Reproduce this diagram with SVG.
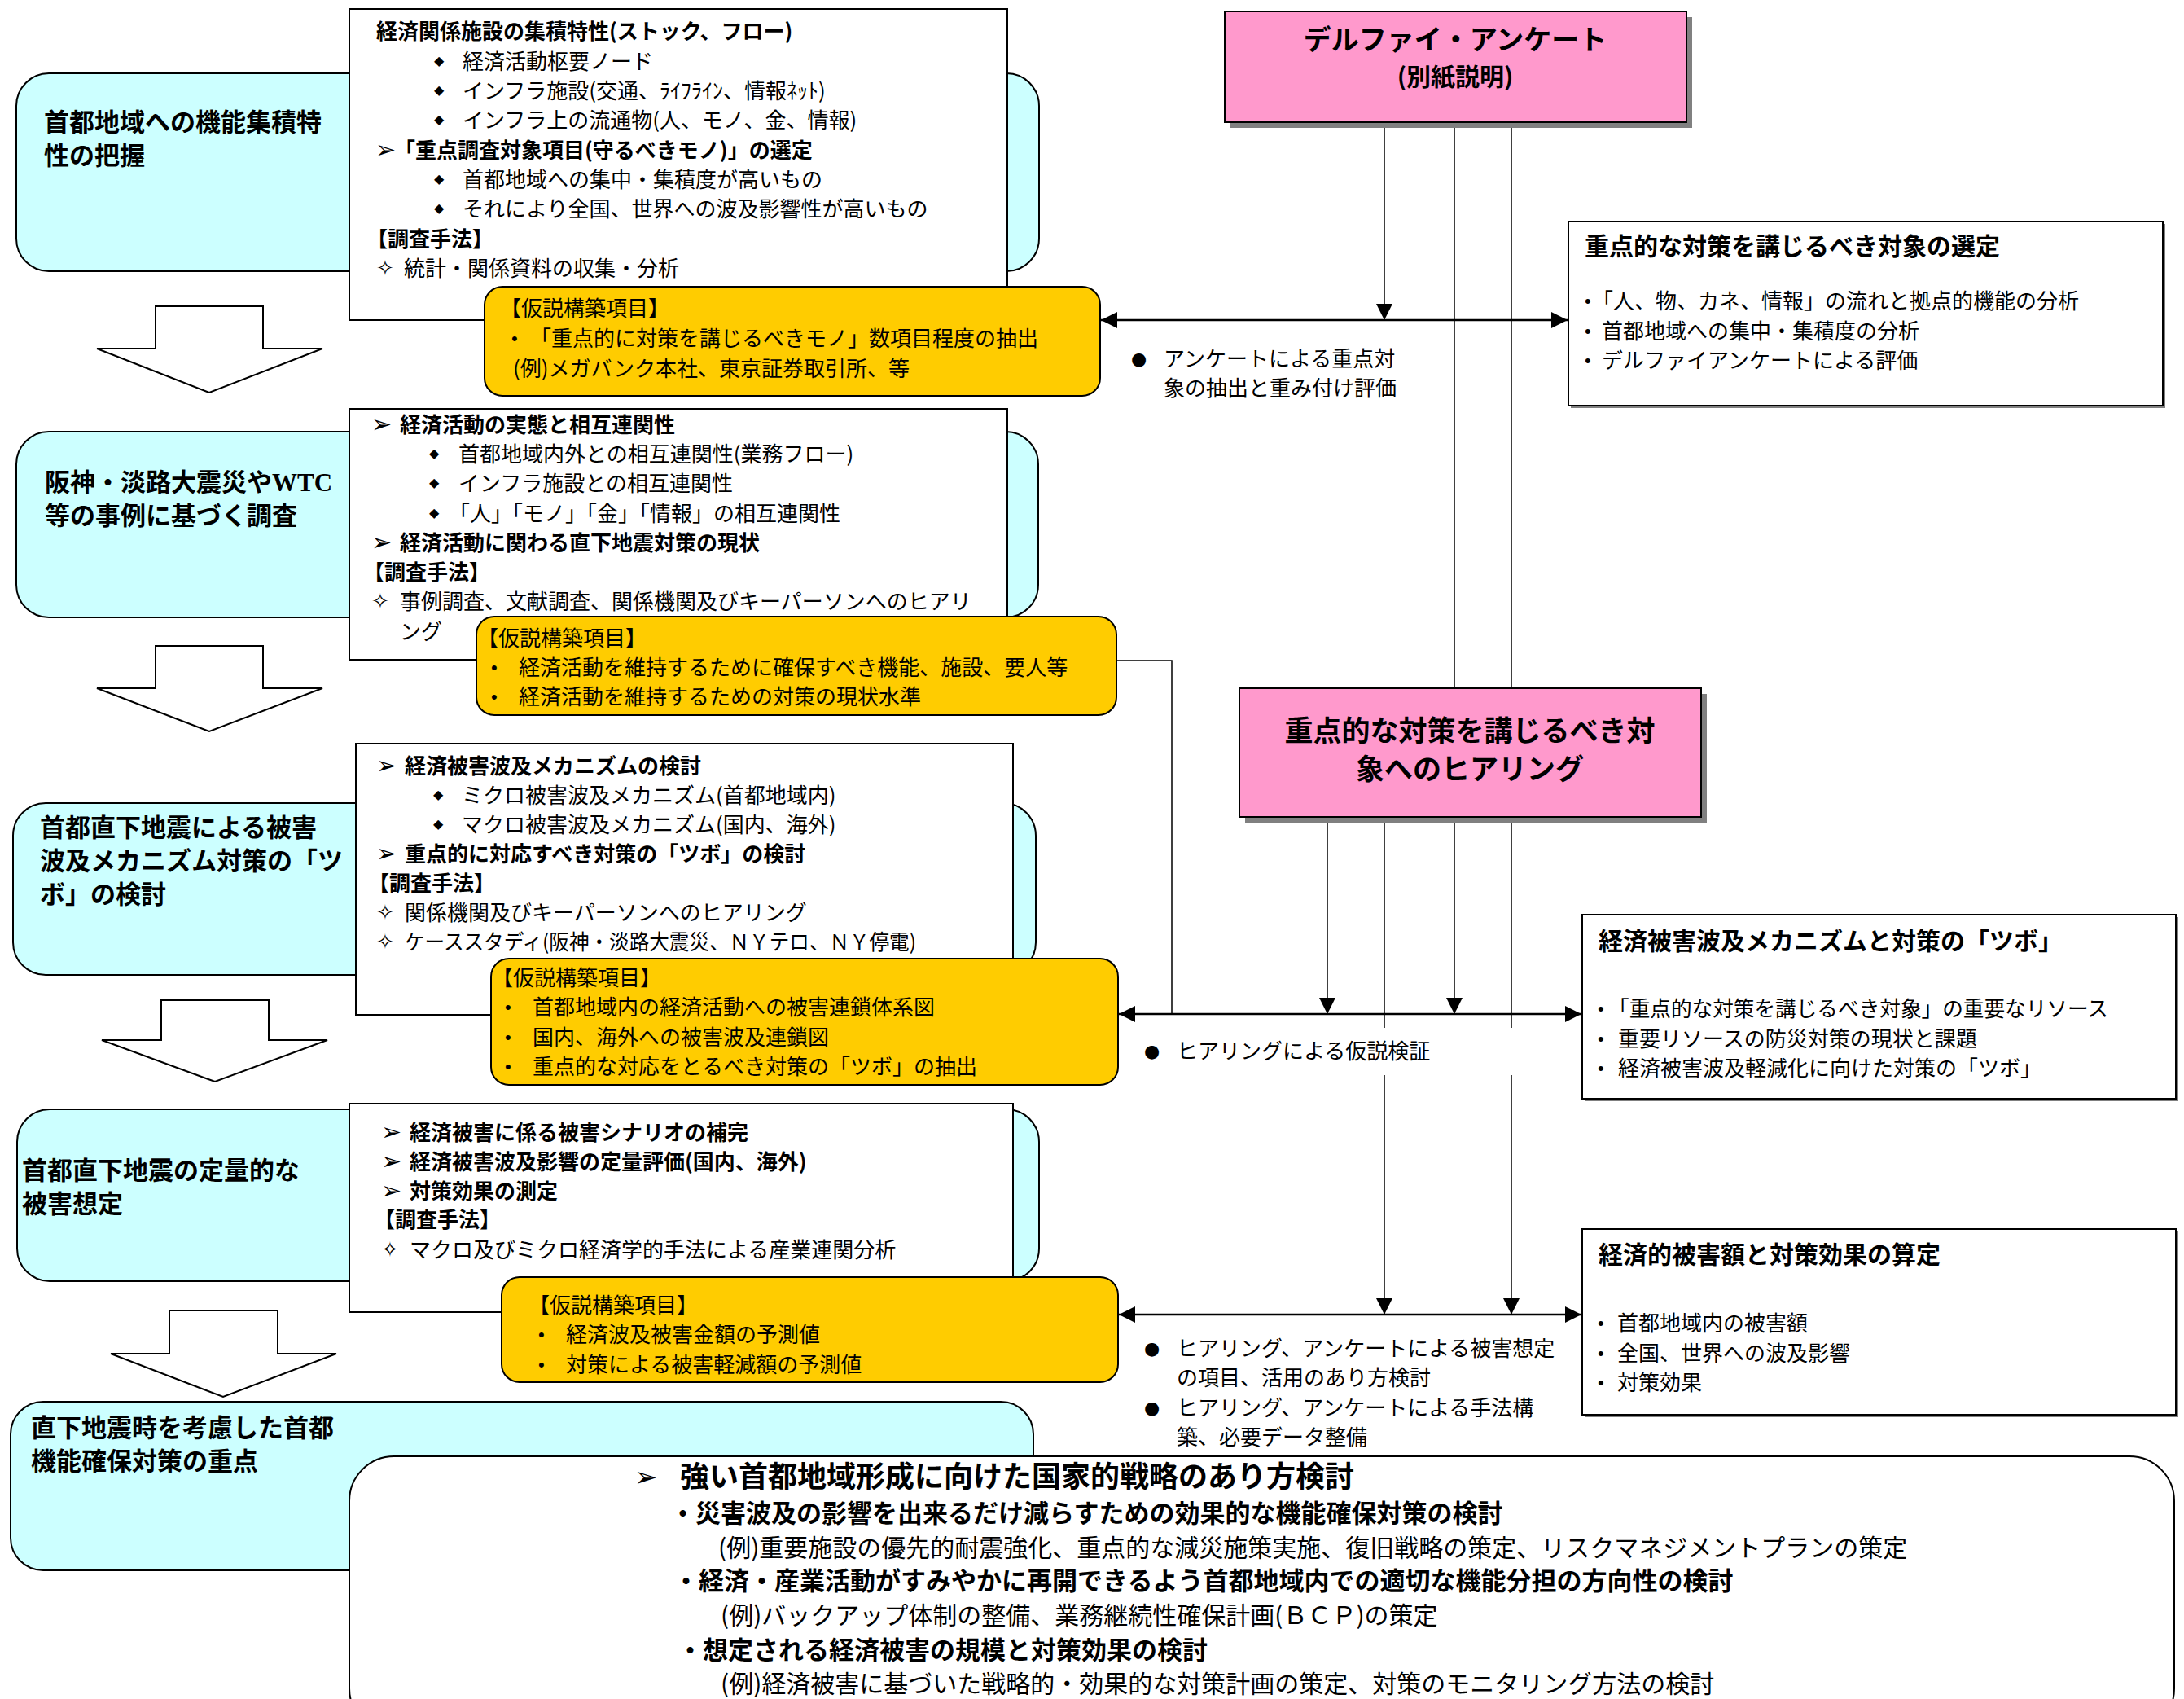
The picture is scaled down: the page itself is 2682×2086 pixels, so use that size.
<svg xmlns="http://www.w3.org/2000/svg" width="2682" height="2086" viewBox="0 0 2682 2086">
<style>
.j{font-family:"Noto Sans CJK JP","Noto Sans CJK SC",sans-serif;fill:#000;font-size:26px}
.bd{font-weight:700}
.lab{font-size:31px;font-weight:700}
.rt{font-size:30px;font-weight:700}
.dm{font-family:"DejaVu Sans",sans-serif;font-size:16px;fill:#000}
.ar{font-family:"DejaVu Sans",sans-serif;font-size:30px;fill:#000}
.st{font-family:"DejaVu Sans",sans-serif;font-size:26px;fill:#000}
.dot{font-family:"Liberation Sans",sans-serif;font-size:22px;fill:#000}
.big{font-family:"DejaVu Sans",sans-serif;font-size:22px;fill:#000}
.cy{fill:#CCFFFF;stroke:#000;stroke-width:2}
.wb{fill:#fff;stroke:#000;stroke-width:2}
.yb{fill:#FFCC00;stroke:#000;stroke-width:2}
.pk{fill:#FF99CC;stroke:#000;stroke-width:2}
.sh{fill:#808080}
.ln{stroke:#000;stroke-width:1.5;fill:none}
.hl{stroke:#000;stroke-width:2.5;fill:none}
.ba{fill:#fff;stroke:#000;stroke-width:2}
</style>
<defs>
<marker id="ah" viewBox="0 0 20 20" refX="20" refY="10" markerWidth="20" markerHeight="20" markerUnits="userSpaceOnUse" orient="auto-start-reverse"><path d="M0,0 L20,10 L0,20 z" fill="#000"/></marker>
</defs>
<rect width="2682" height="2086" fill="#fff"/>

<!-- Section 1 -->
<g id="sec1-label">
<rect class="cy" x="20" y="90" width="1256" height="243" rx="40"/>
<text class="j lab" x="54" y="161">首都地域への機能集積特</text>
<text class="j lab" x="54" y="202">性の把握</text>
</g>
<g id="sec1-detail">
<rect class="wb" x="429" y="11" width="808" height="382"/>
<text class="j bd" x="462" y="48">経済関係施設の集積特性(ストック、フロー)</text>
<text class="dm" x="533" y="80">◆</text><text class="j" x="568" y="85">経済活動枢要ノード</text>
<text class="dm" x="533" y="116">◆</text><text class="j" x="568" y="121">インフラ施設(交通、ﾗｲﾌﾗｲﾝ、情報ﾈｯﾄ)</text>
<text class="dm" x="533" y="152">◆</text><text class="j" x="568" y="157">インフラ上の流通物(人、モノ、金、情報)</text>
<text class="ar" x="461" y="194">➢</text><text class="j bd" x="484" y="194">「重点調査対象項目(守るべきモノ)」の選定</text>
<text class="dm" x="533" y="225">◆</text><text class="j" x="568" y="230">首都地域への集中・集積度が高いもの</text>
<text class="dm" x="533" y="261">◆</text><text class="j" x="568" y="266">それにより全国、世界への波及影響性が高いもの</text>
<text class="j bd" x="450" y="303">【調査手法】</text>
<text class="st" x="462" y="338">✧</text><text class="j" x="496" y="339">統計・関係資料の収集・分析</text>
</g>
<g id="sec1-hyp">
<rect class="yb" x="595" y="352" width="756" height="134" rx="22"/>
<text class="j" x="614" y="388">【仮説構築項目】</text>
<text class="dot" x="628" y="423">•</text><text class="j" x="651" y="425">「重点的に対策を講じるべきモノ」数項目程度の抽出</text>
<text class="j" x="630" y="462">(例)メガバンク本社、東京証券取引所、等</text>
</g>
<g id="arrow1"><path class="ba" d="M191,376 H323 V428 H396 L257,482 L119,428 H191 Z"/></g>

<!-- Section 2 -->
<g id="sec2-label">
<rect class="cy" x="20" y="530" width="1255" height="228" rx="40"/>
<text class="j lab" x="55" y="603">阪神・淡路大震災や<tspan font-family="Liberation Serif">WTC</tspan></text>
<text class="j lab" x="55" y="644">等の事例に基づく調査</text>
</g>
<g id="sec2-detail">
<rect class="wb" x="429" y="502" width="808" height="308"/>
<text class="ar" x="456" y="531">➢</text><text class="j bd" x="491" y="531">経済活動の実態と相互連関性</text>
<text class="dm" x="527" y="562">◆</text><text class="j" x="563" y="567">首都地域内外との相互連関性(業務フロー)</text>
<text class="dm" x="527" y="598">◆</text><text class="j" x="563" y="603">インフラ施設との相互連関性</text>
<text class="dm" x="527" y="635">◆</text><text class="j" x="551" y="640">「人」「モノ」「金」「情報」の相互連関性</text>
<text class="ar" x="456" y="676">➢</text><text class="j bd" x="491" y="676">経済活動に関わる直下地震対策の現状</text>
<text class="j bd" x="446" y="712">【調査手法】</text>
<text class="st" x="456" y="747">✧</text><text class="j" x="491" y="748">事例調査、文献調査、関係機関及びキーパーソンへのヒアリ</text>
<text class="j" x="491" y="785">ング</text>
</g>
<g id="sec2-hyp">
<rect class="yb" x="585" y="757" width="786" height="121" rx="22"/>
<text class="j" x="586" y="793">【仮説構築項目】</text>
<text class="dot" x="603" y="827">•</text><text class="j" x="637" y="829">経済活動を維持するために確保すべき機能、施設、要人等</text>
<text class="dot" x="603" y="863">•</text><text class="j" x="637" y="865">経済活動を維持するための対策の現状水準</text>
</g>
<g id="arrow2"><path class="ba" d="M191,793 H323 V845 H396 L257,898 L119,845 H191 Z"/></g>

<!-- Section 3 -->
<g id="sec3-label">
<rect class="cy" x="16" y="986" width="1256" height="211" rx="40"/>
<text class="j lab" x="49" y="1027">首都直下地震による被害</text>
<text class="j lab" x="49" y="1068">波及メカニズム対策の「ツ</text>
<text class="j lab" x="49" y="1109">ボ」の検討</text>
</g>
<g id="sec3-detail">
<rect class="wb" x="437" y="913" width="807" height="333"/>
<text class="ar" x="462" y="950">➢</text><text class="j bd" x="497" y="950">経済被害波及メカニズムの検討</text>
<text class="dm" x="532" y="981">◆</text><text class="j" x="567" y="986">ミクロ被害波及メカニズム(首都地域内)</text>
<text class="dm" x="532" y="1017">◆</text><text class="j" x="567" y="1022">マクロ被害波及メカニズム(国内、海外)</text>
<text class="ar" x="462" y="1058">➢</text><text class="j bd" x="497" y="1058">重点的に対応すべき対策の「ツボ」の検討</text>
<text class="j bd" x="452" y="1094">【調査手法】</text>
<text class="st" x="462" y="1129">✧</text><text class="j" x="497" y="1130">関係機関及びキーパーソンへのヒアリング</text>
<text class="st" x="462" y="1165">✧</text><text class="j" x="497" y="1166" textLength="628" lengthAdjust="spacingAndGlyphs">ケーススタディ(阪神・淡路大震災、ＮＹテロ、ＮＹ停電)</text>
</g>
<g id="sec3-hyp">
<rect class="yb" x="603" y="1177" width="770" height="155" rx="22"/>
<text class="j" x="604" y="1210">【仮説構築項目】</text>
<text class="dot" x="620" y="1244">•</text><text class="j" x="654" y="1246">首都地域内の経済活動への被害連鎖体系図</text>
<text class="dot" x="620" y="1281">•</text><text class="j" x="654" y="1283">国内、海外への被害波及連鎖図</text>
<text class="dot" x="620" y="1317">•</text><text class="j" x="654" y="1319">重点的な対応をとるべき対策の「ツボ」の抽出</text>
</g>
<g id="arrow3"><path class="ba" d="M198,1228 H330 V1277 H402 L264,1328 L125,1277 H198 Z"/></g>

<!-- Section 4 -->
<g id="sec4-label">
<rect class="cy" x="21" y="1362" width="1255" height="211" rx="40"/>
<text class="j lab" x="27" y="1448">首都直下地震の定量的な</text>
<text class="j lab" x="27" y="1489">被害想定</text>
</g>
<g id="sec4-detail">
<rect class="wb" x="429" y="1355" width="815" height="256"/>
<text class="ar" x="468" y="1400">➢</text><text class="j bd" x="503" y="1400">経済被害に係る被害シナリオの補完</text>
<text class="ar" x="468" y="1436">➢</text><text class="j bd" x="503" y="1436">経済被害波及影響の定量評価(国内、海外)</text>
<text class="ar" x="468" y="1472">➢</text><text class="j bd" x="503" y="1472">対策効果の測定</text>
<text class="j bd" x="459" y="1507">【調査手法】</text>
<text class="st" x="468" y="1543">✧</text><text class="j" x="503" y="1544">マクロ及びミクロ経済学的手法による産業連関分析</text>
</g>
<g id="sec4-hyp">
<rect class="yb" x="616" y="1568" width="757" height="129" rx="22"/>
<text class="j" x="649" y="1612">【仮説構築項目】</text>
<text class="dot" x="661" y="1646">•</text><text class="j" x="695" y="1648">経済波及被害金額の予測値</text>
<text class="dot" x="661" y="1683">•</text><text class="j" x="695" y="1685">対策による被害軽減額の予測値</text>
</g>
<g id="arrow4"><path class="ba" d="M208,1609 H341 V1662 H413 L274,1715 L136,1662 H208 Z"/></g>

<!-- Section 5 -->
<g id="sec5-label">
<rect class="cy" x="13" y="1721" width="1256" height="207" rx="40"/>
<text class="j lab" x="38" y="1764">直下地震時を考慮した首都</text>
<text class="j lab" x="38" y="1805">機能確保対策の重点</text>
</g>
<g id="sec5-strategy">
<rect class="wb" x="429" y="1788" width="2241" height="340" rx="55"/>
<text class="ar" x="779" y="1825" style="font-size:34px">➢</text>
<text class="j bd" x="835" y="1826" style="font-size:36px">強い首都地域形成に向けた国家的戦略のあり方検討</text>
<text class="j bd" x="823" y="1869" style="font-size:31px">・災害波及の影響を出来るだけ減らすための効果的な機能確保対策の検討</text>
<text class="j" x="882" y="1911" style="font-size:30px">(例)重要施設の優先的耐震強化、重点的な減災施策実施、復旧戦略の策定、リスクマネジメントプランの策定</text>
<text class="j bd" x="827" y="1952" style="font-size:31px">・経済・産業活動がすみやかに再開できるよう首都地域内での適切な機能分担の方向性の検討</text>
<text class="j" x="885" y="1994" style="font-size:30px">(例)バックアップ体制の整備、業務継続性確保計画(ＢＣＰ)の策定</text>
<text class="j bd" x="832" y="2037" style="font-size:31px">・想定される経済被害の規模と対策効果の検討</text>
<text class="j" x="885" y="2078" style="font-size:30px">(例)経済被害に基づいた戦略的・効果的な対策計画の策定、対策のモニタリング方法の検討</text>
</g>

<!-- Connectors -->
<g id="connectors">
<path class="ln" d="M1700,157 V393" marker-end="url(#ah)"/>
<path class="ln" d="M1786,157 V845"/>
<path class="ln" d="M1856,157 V845"/>
<path class="ln" d="M1630,1010 V1245" marker-end="url(#ah)"/>
<path class="ln" d="M1786,1010 V1245" marker-end="url(#ah)"/>
<path class="ln" d="M1700,1010 V1614" marker-end="url(#ah)"/>
<path class="ln" d="M1856,1010 V1614" marker-end="url(#ah)"/>
<path class="ln" d="M1371,811 H1439 V1245"/>
<path class="hl" d="M1352,393 H1925" marker-start="url(#ah)" marker-end="url(#ah)"/>
<path class="hl" d="M1374,1245 H1942" marker-start="url(#ah)" marker-end="url(#ah)"/>
<path class="hl" d="M1374,1614 H1942" marker-start="url(#ah)" marker-end="url(#ah)"/>
</g>

<!-- Connector labels -->
<g id="label-row1">
<text class="big" x="1389" y="448">●</text>
<text class="j" x="1429" y="450">アンケートによる重点対</text>
<text class="j" x="1429" y="486">象の抽出と重み付け評価</text>
</g>
<g id="label-row2">
<rect x="1395" y="1262" width="505" height="58" fill="#fff"/>
<text class="big" x="1405" y="1298">●</text>
<text class="j" x="1445" y="1300">ヒアリングによる仮説検証</text>
</g>
<g id="label-row3">
<text class="big" x="1405" y="1663">●</text>
<text class="j" x="1445" y="1665">ヒアリング、アンケートによる被害想定</text>
<text class="j" x="1445" y="1701">の項目、活用のあり方検討</text>
<text class="big" x="1405" y="1736">●</text>
<text class="j" x="1445" y="1738">ヒアリング、アンケートによる手法構</text>
<text class="j" x="1445" y="1774">築、必要データ整備</text>
</g>

<!-- Right side nodes -->
<g id="delphi">
<rect class="sh" x="1511" y="21" width="567" height="136"/>
<rect class="pk" x="1504" y="14" width="567" height="136"/>
<text class="j bd" x="1787" y="61" text-anchor="middle" style="font-size:34px">デルファイ・アンケート</text>
<text class="j bd" x="1787" y="105" text-anchor="middle" style="font-size:30px">(別紙説明)</text>
</g>
<g id="hearing">
<rect class="sh" x="1529" y="852" width="567" height="158"/>
<rect class="pk" x="1522" y="845" width="567" height="158"/>
<text class="j bd" x="1805" y="910" text-anchor="middle" style="font-size:35px">重点的な対策を講じるべき対</text>
<text class="j bd" x="1805" y="957" text-anchor="middle" style="font-size:35px">象へのヒアリング</text>
</g>
<g id="result1">
<rect class="sh" x="1929" y="275" width="730" height="226"/>
<rect class="wb" x="1926" y="272" width="730" height="226"/>
<text class="j rt" x="1946" y="313">重点的な対策を講じるべき対象の選定</text>
<text class="dot" x="1946" y="377">•</text><text class="j" x="1955" y="379">「人、物、カネ、情報」の流れと拠点的機能の分析</text>
<text class="dot" x="1946" y="414">•</text><text class="j" x="1967" y="416">首都地域への集中・集積度の分析</text>
<text class="dot" x="1946" y="450">•</text><text class="j" x="1967" y="452">デルファイアンケートによる評価</text>
</g>
<g id="result2">
<rect class="sh" x="1946" y="1126" width="729" height="226"/>
<rect class="wb" x="1943" y="1123" width="729" height="226"/>
<text class="j rt" x="1963" y="1166">経済被害波及メカニズムと対策の「ツボ」</text>
<text class="dot" x="1962" y="1246">•</text><text class="j" x="1975" y="1248" textLength="614" lengthAdjust="spacingAndGlyphs">「重点的な対策を講じるべき対象」の重要なリソース</text>
<text class="dot" x="1962" y="1283">•</text><text class="j" x="1987" y="1285">重要リソースの防災対策の現状と課題</text>
<text class="dot" x="1962" y="1319">•</text><text class="j" x="1987" y="1321">経済被害波及軽減化に向けた対策の「ツボ」</text>
</g>
<g id="result3">
<rect class="sh" x="1946" y="1512" width="729" height="228"/>
<rect class="wb" x="1943" y="1509" width="729" height="228"/>
<text class="j rt" x="1963" y="1551">経済的被害額と対策効果の算定</text>
<text class="dot" x="1962" y="1632">•</text><text class="j" x="1986" y="1634">首都地域内の被害額</text>
<text class="dot" x="1962" y="1669">•</text><text class="j" x="1986" y="1671">全国、世界への波及影響</text>
<text class="dot" x="1962" y="1705">•</text><text class="j" x="1986" y="1707">対策効果</text>
</g>
</svg>
